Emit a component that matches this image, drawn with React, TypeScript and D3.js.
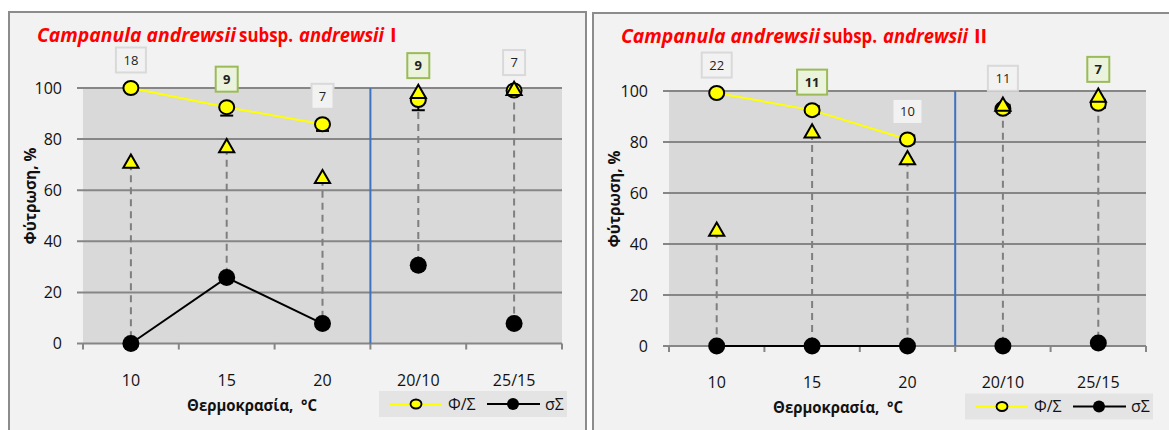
import React from "react";
import * as d3 from "d3";

// ---------- data ----------
const categories = ["10", "15", "20", "20/10", "25/15"];
const regimes = ["const", "const", "const", "alt", "alt"];
const yTicks = [0, 20, 40, 60, 80, 100];

// Panel I
const germI = [100, 92.5, 85.8, 95.3, 99];
const germErrI = [0, 3.3, 2.6, 4, 0];
const triI = [70.5, 76.6, 64.5, 97.8, 99];
const sigmaI = [0, 25.8, 7.8, 30.6, 7.8];
const nI = [18, 9, 7, 9, 7];
const hiI = [false, true, false, true, false];

// Panel II
const germII = [99.2, 92.5, 81, 93, 95];
const germErrII = [0, 0.07, 0.07, 0.07, 0.07];
const triII = [45, 83.5, 73, 94, 97.5];
const sigmaII = [0, 0, 0, 0, 1.2];
const nII = [22, 11, 10, 11, 7];
const hiII = [false, true, false, false, true];

const FONT = "'Open Sans', 'Noto Sans', 'DejaVu Sans', sans-serif";

type PanelProps = {
  fx: number;
  fy: number;
  fw: number;
  plot: { l: number; r: number; t: number; b: number };
  numeral: string;
  germ: number[];
  germErr: number[];
  errDir: "v" | "h";
  tri: number[];
  sigma: number[];
  n: number[];
  hi: boolean[];
};

function Panel(p: PanelProps) {
  const { plot } = p;
  const x = d3.scaleBand<string>().domain(categories).range([plot.l, plot.r]).padding(0);
  const y = d3.scaleLinear().domain([0, 100]).range([plot.b, plot.t]);
  const bw = x.bandwidth();
  const cx = (i: number) => (x(categories[i]) as number) + bw / 2;
  const idx = categories.map((_, i) => i);
  const constIdx = idx.filter((i) => regimes[i] === "const");
  const firstAlt = idx.find((i) => regimes[i] === "alt") as number;
  const sepX = x(categories[firstAlt]) as number;

  const lineG = d3
    .line<number>()
    .x((i) => cx(i))
    .y((i) => y(p.germ[i]));
  const lineS = d3
    .line<number>()
    .x((i) => cx(i))
    .y((i) => y(p.sigma[i]));
  const triPath = d3.symbol().type(d3.symbolTriangle).size(100)() as string;

  const boundaries = d3.range(categories.length + 1).map((k) => plot.l + k * bw);
  const legX = plot.l + 296;
  const legY = plot.b + 47.5;
  const legCy = legY + 13;

  const tx = p.fx + 28;
  const ty = p.fy + 30;
  const titleParts = [
    { s: "Campanula andrewsii", it: true, dx: 0, len: 199 },
    { s: "subsp.", it: false, dx: 202, len: 54 },
    { s: "andrewsii", it: true, dx: 262, len: 85 },
    { s: p.numeral, it: false, dx: 353, len: 0 },
  ];

  return (
    <g>
      <rect x={p.fx} y={p.fy} width={p.fw} height={460} fill="#f2f2f2" stroke="#8c8c8c" strokeWidth={2} />
      {titleParts.map((t) => (
        <text
          key={t.dx}
          x={tx + t.dx}
          y={ty}
          fontFamily={FONT}
          fontWeight="bold"
          fontStyle={t.it ? "italic" : "normal"}
          fontSize={20}
          fill="#ff0000"
          textLength={t.len > 0 ? t.len : undefined}
          lengthAdjust={t.len > 0 ? "spacingAndGlyphs" : undefined}
        >
          {t.s}
        </text>
      ))}

      <rect x={plot.l} y={plot.t} width={plot.r - plot.l} height={plot.b - plot.t} fill="#d9d9d9" />
      {yTicks.map((t) => (
        <g key={t}>
          <line x1={plot.l - 6} x2={plot.r} y1={y(t)} y2={y(t)} stroke="#868686" strokeWidth={2} />
          <text
            x={plot.l - 21}
            y={y(t) + 5.5}
            textAnchor="end"
            fontFamily={FONT}
            fontSize={16}
            fill="#111"
          >
            {t}
          </text>
        </g>
      ))}
      {boundaries.map((bx, k) => (
        <line key={k} x1={bx} x2={bx} y1={plot.b} y2={plot.b + 6} stroke="#868686" strokeWidth={2} />
      ))}
      {categories.map((c, i) => (
        <text
          key={c}
          x={cx(i)}
          y={plot.b + 42}
          textAnchor="middle"
          fontFamily={FONT}
          fontSize={16}
          fill="#111"
        >
          {c}
        </text>
      ))}
      <text
        x={plot.l + 169}
        y={plot.b + 67}
        textAnchor="middle"
        fontFamily={FONT}
        fontWeight="bold"
        fontSize={15.5}
        fill="#111"
        textLength={130}
        lengthAdjust="spacingAndGlyphs"
      >
        {"Θερμοκρασία,\u00a0\u00a0°C"}
      </text>
      <text
        transform={`translate(${p.fx + 21},${plot.t + 108}) rotate(-90)`}
        textAnchor="middle"
        dominantBaseline="central"
        fontFamily={FONT}
        fontWeight="bold"
        fontSize={15.5}
        fill="#111"
        textLength={97}
        lengthAdjust="spacingAndGlyphs"
      >
        Φύτρωση, %
      </text>

      {/* separator between constant and alternating temperatures */}
      <line x1={sepX} x2={sepX} y1={plot.t} y2={plot.b} stroke="#3d73c1" strokeWidth={2} />

      {/* dashed drops */}
      {idx.map((i) => (
        <line
          key={i}
          x1={cx(i)}
          x2={cx(i)}
          y1={y(Math.min(p.germ[i], p.tri[i]))}
          y2={y(p.sigma[i])}
          stroke="#7f7f7f"
          strokeWidth={2}
          strokeDasharray="7 5"
        />
      ))}

      <path d={lineG(constIdx) as string} fill="none" stroke="#ffff00" strokeWidth={2} />
      <path d={lineS(constIdx) as string} fill="none" stroke="#000" strokeWidth={2} />

      {/* error bars */}
      {idx
        .filter((i) => p.germErr[i] > 0)
        .map((i) =>
          p.errDir === "v" ? (
            <g key={i} stroke="#000" strokeWidth={2}>
              <line x1={cx(i)} x2={cx(i)} y1={y(p.germ[i])} y2={y(p.germ[i] - p.germErr[i])} />
              <line x1={cx(i) - 6.5} x2={cx(i) + 6.5} y1={y(p.germ[i] - p.germErr[i])} y2={y(p.germ[i] - p.germErr[i])} />
            </g>
          ) : (
            <g key={i} stroke="#000" strokeWidth={2}>
              <line x1={cx(i)} x2={cx(i) + p.germErr[i] * bw} y1={y(p.germ[i])} y2={y(p.germ[i])} />
              <line
                x1={cx(i) + p.germErr[i] * bw}
                x2={cx(i) + p.germErr[i] * bw}
                y1={y(p.germ[i]) - 5}
                y2={y(p.germ[i]) + 5}
              />
            </g>
          )
        )}

      {idx.map((i) => (
        <ellipse key={i} cx={cx(i)} cy={y(p.germ[i])} rx={7.5} ry={7} fill="#ffff00" stroke="#000" strokeWidth={2} />
      ))}
      {idx.map((i) => (
        <path
          key={i}
          d={triPath}
          transform={`translate(${cx(i)},${y(p.tri[i])})`}
          fill="#ffff00"
          stroke="#000"
          strokeWidth={2}
          strokeLinejoin="miter"
        />
      ))}
      {idx.map((i) => (
        <circle key={i} cx={cx(i)} cy={y(p.sigma[i])} r={8.5} fill="#000" />
      ))}

      {/* sample-size labels */}
      {idx.map((i) => {
        const txt = String(p.n[i]);
        const w = txt.length === 1 ? 22 : 30;
        const h = 25;
        const cy = y(Math.max(p.germ[i], p.tri[i])) - 28;
        return (
          <g key={i}>
            <rect
              x={cx(i) - w / 2}
              y={cy - h / 2}
              width={w}
              height={h}
              fill={p.hi[i] ? "#ebf3dd" : "#f2f2f2"}
              stroke={p.hi[i] ? "#9bbb59" : "#d9d9d9"}
              strokeWidth={2}
            />
            <text
              x={cx(i)}
              y={cy + 4.5}
              textAnchor="middle"
              fontFamily={FONT}
              fontSize={13}
              fontWeight={p.hi[i] ? "bold" : "normal"}
              fill="#222"
            >
              {txt}
            </text>
          </g>
        );
      })}

      {/* legend */}
      <rect x={legX} y={legY} width={188} height={26} fill="#e4e4e4" />
      <line x1={legX + 10} x2={legX + 63} y1={legCy} y2={legCy} stroke="#ffff00" strokeWidth={2} />
      <ellipse cx={legX + 37} cy={legCy} rx={5.5} ry={4.5} fill="#ffff00" stroke="#000" strokeWidth={1.8} />
      <text x={legX + 69} y={legCy + 5.5} fontFamily={FONT} fontSize={16} fill="#111">
        Φ/Σ
      </text>
      <line x1={legX + 108} x2={legX + 161} y1={legCy} y2={legCy} stroke="#000" strokeWidth={2} />
      <circle cx={legX + 134} cy={legCy} r={6} fill="#000" />
      <text x={legX + 166} y={legCy + 5.5} fontFamily={FONT} fontSize={16} fill="#111">
        σΣ
      </text>
    </g>
  );
}

export default function App() {
  return (
    <svg
      width={1169}
      height={430}
      style={{ position: "absolute", left: 0, top: 0, background: "#fff" }}
    >
      <rect x={0} y={0} width={1169} height={430} fill="#fff" />
      <Panel
        fx={9}
        fy={12}
        fw={577}
        plot={{ l: 83, r: 562, t: 88, b: 343.5 }}
        numeral="I"
        germ={germI}
        germErr={germErrI}
        errDir="v"
        tri={triI}
        sigma={sigmaI}
        n={nI}
        hi={hiI}
      />
      <Panel
        fx={593}
        fy={13}
        fw={590}
        plot={{ l: 669, r: 1146, t: 91, b: 346 }}
        numeral="II"
        germ={germII}
        germErr={germErrII}
        errDir="h"
        tri={triII}
        sigma={sigmaII}
        n={nII}
        hi={hiII}
      />
    </svg>
  );
}
